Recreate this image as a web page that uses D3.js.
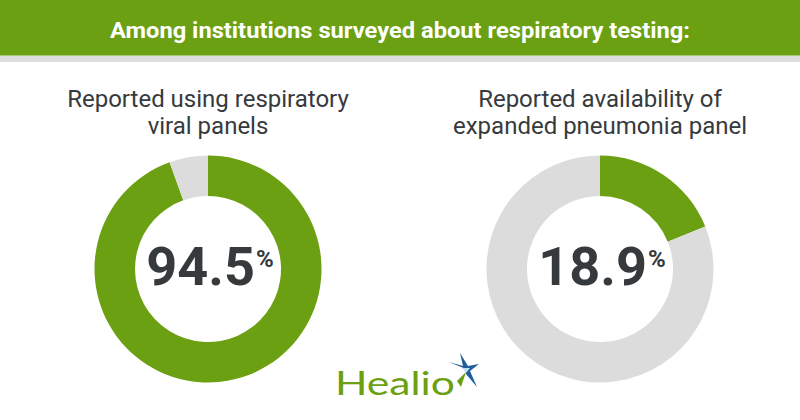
<!DOCTYPE html>
<html>
<head>
<meta charset="utf-8">
<script src="https://cdn.jsdelivr.net/npm/d3@7"></script>
<style>
  html, body { margin: 0; padding: 0; background: #fff; }
  svg { display: block; }
</style>
</head>
<body>
<svg id="chart" width="800" height="420"></svg>
<script>
// ---- data ----
const headline = "Among institutions surveyed about respiratory testing:";
const panelTitles = [
  ["Reported using respiratory", "viral panels"],
  ["Reported availability of", "expanded pneumonia panel"]
];
const percentValues = [94.5, 18.9];
const brand = "Healio";

// ---- styles ----
const GREEN = "#6ba012";
const GRAY = "#dcdcdc";
const DARK = "#363a3c";

const svg = d3.select("#chart");

// header bar
svg.append("rect").attr("x", 0).attr("y", 0).attr("width", 800).attr("height", 55).attr("fill", GREEN);
svg.append("rect").attr("x", 0).attr("y", 55).attr("width", 800).attr("height", 1).attr("fill", "#a9c873");
svg.append("rect").attr("x", 0).attr("y", 56).attr("width", 800).attr("height", 6).attr("fill", "#dedede");

svg.append("text")
  .attr("x", 400).attr("y", 38)
  .attr("text-anchor", "middle")
  .attr("font-family", "Roboto, sans-serif")
  .attr("font-weight", 700)
  .attr("font-size", 22.5)
  .attr("fill", "#fff")
  .attr("textLength", 580)
  .attr("lengthAdjust", "spacingAndGlyphs")
  .text(headline);

// scales for panel placement
const xPanel = d3.scalePoint().domain(d3.range(percentValues.length)).range([208, 600]);
const cy = 269;
const outerR = 113.5, innerR = 73;

const pie = d3.pie().sort(null).value(d => d.v).startAngle(0).endAngle(2 * Math.PI);
const arc = d3.arc().innerRadius(innerR).outerRadius(outerR);

percentValues.forEach((val, i) => {
  const cx = xPanel(i);
  const g = svg.append("g").attr("transform", `translate(${cx},${cy})`);
  const slices = pie([{ v: val, c: GREEN }, { v: 100 - val, c: GRAY }]);
  g.selectAll("path").data(slices).join("path")
    .attr("d", arc)
    .attr("fill", d => d.data.c);

  const t = g.append("text")
    .attr("x", 2).attr("y", 16)
    .attr("text-anchor", "middle")
    .attr("font-family", "Roboto, sans-serif")
    .attr("font-weight", 700)
    .attr("fill", DARK);
  t.append("tspan").attr("font-size", 54).text(d3.format(".1f")(val));
  t.append("tspan").attr("font-size", 24).attr("dy", -18).attr("dx", 1).text("%");

  // title
  const tt = svg.append("text")
    .attr("text-anchor", "middle")
    .attr("font-family", "Roboto, sans-serif")
    .attr("font-size", 24)
    .attr("fill", DARK);
  panelTitles[i].forEach((line, j) => {
    tt.append("tspan").attr("x", cx).attr("y", 107 + j * 27).text(line);
  });
});

// brand logo
svg.append("text")
  .attr("x", 335).attr("y", 395)
  .attr("font-family", "Lato, 'Open Sans', sans-serif")
  .attr("font-size", 33)
  .attr("fill", GREEN)
  .attr("textLength", 120)
  .attr("lengthAdjust", "spacingAndGlyphs")
  .text(brand);

// star mark
const star = svg.append("g").attr("transform", "translate(466,369)");
star.append("path")
  .attr("d", "M0,0 L-17,-7 L-3,-3 L-6,-16 L2,-3 L13,-5 L4,2 L11,18 L0,5 Z")
  .attr("fill", "#1f5e9c");
star.append("path")
  .attr("d", "M0,3 L-5,18 L-9,12 Z")
  .attr("fill", GREEN);
star.append("path")
  .attr("d", "M-4,-1 L4,-1 L0,4 Z")
  .attr("fill", "#bfe0f2");
</script>
</body>
</html>
